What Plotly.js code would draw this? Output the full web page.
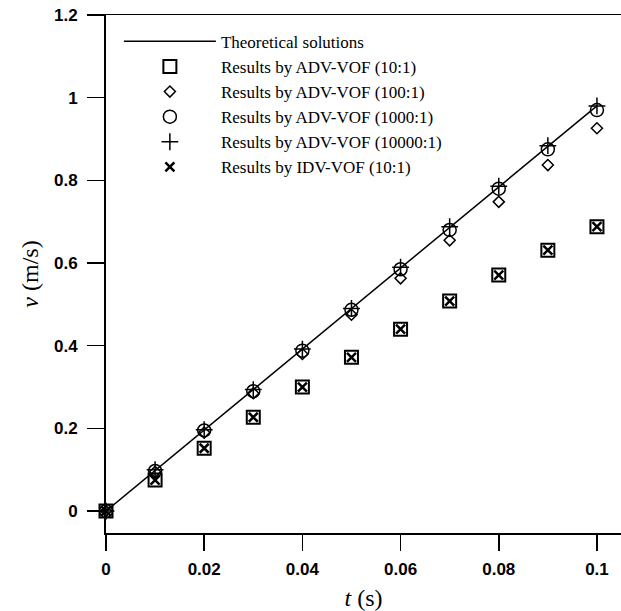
<!DOCTYPE html>
<html>
<head>
<meta charset="utf-8">
<script src="https://cdn.plot.ly/plotly-3.0.1.min.js"></script>
<style>html,body{margin:0;padding:0;background:#fff;}#chart{width:621px;height:611px;}</style>
</head>
<body>
<div id="chart"></div>
<script>
// time values (s)
var tValues = [0, 0.01, 0.02, 0.03, 0.04, 0.05, 0.06, 0.07, 0.08, 0.09, 0.1];
// theoretical velocity (m/s)
var theoretical = [0, 0.098, 0.196, 0.294, 0.392, 0.49, 0.588, 0.686, 0.784, 0.882, 0.98];
// ADV-VOF results
var adv10 = [0, 0.075, 0.152, 0.227, 0.300, 0.372, 0.440, 0.508, 0.571, 0.631, 0.688];
var adv100 = [0, 0.095, 0.190, 0.285, 0.380, 0.475, 0.563, 0.655, 0.748, 0.837, 0.926];
var adv1000 = [0, 0.097, 0.195, 0.290, 0.388, 0.487, 0.585, 0.680, 0.780, 0.875, 0.970];
var adv10000 = [0, 0.100, 0.197, 0.294, 0.392, 0.490, 0.590, 0.688, 0.786, 0.884, 0.980];
// IDV-VOF results
var idv10 = [0, 0.075, 0.152, 0.227, 0.300, 0.372, 0.440, 0.508, 0.571, 0.631, 0.688];

var names = [
  'Theoretical solutions',
  'Results by ADV-VOF (10:1)',
  'Results by ADV-VOF (100:1)',
  'Results by ADV-VOF (1000:1)',
  'Results by ADV-VOF (10000:1)',
  'Results by IDV-VOF (10:1)'
];
var xTickVals = [0, 0.02, 0.04, 0.06, 0.08, 0.1];
var xTickText = ['0', '0.02', '0.04', '0.06', '0.08', '0.1'];
var yTickVals = [0, 0.2, 0.4, 0.6, 0.8, 1, 1.2];
var yTickText = ['0', '0.2', '0.4', '0.6', '0.8', '1', '1.2'];

function mk(y, name, sym, size, lw) {
  return {x: tValues, y: y, name: name, type: 'scatter', mode: 'markers', cliponaxis: false,
    marker: {symbol: sym, size: size, color: '#000', line: {color: '#000', width: lw}}};
}
var traces = [
  {x: tValues, y: theoretical, name: names[0], type: 'scatter', mode: 'lines', line: {color: '#000', width: 1.5}, cliponaxis: false},
  mk(adv10, names[1], 'square-open', 13, 2),
  mk(adv100, names[2], 'diamond-open', 8.5, 1.5),
  mk(adv1000, names[3], 'circle-open', 13, 1.5),
  mk(adv10000, names[4], 'cross-thin-open', 12, 1.5),
  mk(idv10, names[5], 'x-thin-open', 9, 2.5)
];

var layout = {
  width: 621, height: 611,
  margin: {l: 106, r: 0, t: 15, b: 78},
  paper_bgcolor: '#fff', plot_bgcolor: '#fff',
  showlegend: true,
  legend: {x: 0.025, y: 0.983, xanchor: 'left', yanchor: 'top', bgcolor: 'rgba(0,0,0,0)',
    font: {family: 'Liberation Serif, Times New Roman, serif', size: 17, color: '#000'},
    itemwidth: 92, tracegroupgap: 0},
  xaxis: {range: [0, 0.1049], tickvals: xTickVals, ticktext: xTickText,
    showline: true, linecolor: '#000', linewidth: 1.5, mirror: true,
    ticks: 'outside', ticklen: 16, tickwidth: 1.5, tickcolor: '#000', ticklabelstandoff: 4,
    showgrid: false, zeroline: false,
    tickfont: {family: 'Liberation Sans, Arial, sans-serif', size: 17, color: '#000', weight: 'bold'},
    title: {text: '<i>t</i> (s)', font: {family: 'Liberation Serif, Times New Roman, serif', size: 24, color: '#000'}, standoff: 18}},
  yaxis: {range: [-0.053, 1.2], tickvals: yTickVals, ticktext: yTickText,
    showline: true, linecolor: '#000', linewidth: 2, mirror: false,
    ticks: 'outside', ticklen: 17, tickwidth: 1.5, tickcolor: '#000', ticklabelstandoff: 6,
    showgrid: false, zeroline: false,
    tickfont: {family: 'Liberation Sans, Arial, sans-serif', size: 17, color: '#000', weight: 'bold'},
    title: {text: '<i>v</i> (m/s)', font: {family: 'Liberation Serif, Times New Roman, serif', size: 24, color: '#000'}, standoff: 9}}
};
Plotly.newPlot('chart', traces, layout, {displayModeBar: false, staticPlot: true});
</script>
</body>
</html>
